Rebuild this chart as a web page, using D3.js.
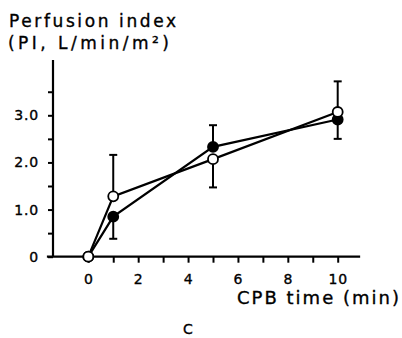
<!DOCTYPE html>
<html>
<head>
<meta charset="utf-8">
<script src="https://cdn.jsdelivr.net/npm/d3@7"></script>
<style>
  body { margin: 0; background: #fff; }
  text { font-family: 'DejaVu Sans', sans-serif; fill: #000; stroke: #000; stroke-width: 0.35; }
</style>
</head>
<body>
<div id="chart"></div>
<script>
// data
const times = [0, 1, 5, 10]
const filledPI = [0, 0.85, 2.33, 2.91]
const filledSD = [0, 0.47, 0.46, 0.41]
const filledDir = [0, -1, 1, -1] // which side the error bar is drawn
const openPI = [0, 1.28, 2.07, 3.07]
const openSD = [0, 0.88, 0.6, 0.65]
const openDir = [0, 1, -1, 1]

const yTicks = [0, 0.5, 1, 1.5, 2, 2.5, 3, 3.5]
const yLabels = { 0: '0', 1: '1.0', 2: '2.0', 3: '3.0' }
const xTicks = d3.range(0, 11)
const xLabels = [0, 2, 4, 6, 8, 10]

const width = 402
const height = 338

const svg = d3
  .select('#chart')
  .append('svg')
  .attr('width', width)
  .attr('height', height)

const x = d3.scaleLinear().domain([0, 10]).range([88.3, 337.7])
const y = d3.scaleLinear().domain([0, 3]).range([256.7, 115.3])

// axes
svg.append('line')
  .attr('x1', x(-1.66)).attr('x2', x(10.9))
  .attr('y1', y(0)).attr('y2', y(0))
  .attr('stroke', '#000').attr('stroke-width', 2.2)

svg.append('line')
  .attr('x1', 53).attr('x2', 53)
  .attr('y1', y(0)).attr('y2', 60)
  .attr('stroke', '#000').attr('stroke-width', 2.2)

const yAxis = d3.axisLeft(y)
  .tickValues(yTicks)
  .tickSize(5)
  .tickPadding(9)
  .tickFormat(d => yLabels[d] || '')

svg.append('g')
  .attr('transform', 'translate(53,0)')
  .call(yAxis)
  .call(g => g.select('.domain').remove())
  .call(g => g.selectAll('line').attr('stroke-width', 2))
  .call(g => g.selectAll('text')
    .attr('font-size', 14)
    .attr('letter-spacing', 0.8)
    .style('font-family', "'DejaVu Sans', sans-serif"))

const xAxis = d3.axisBottom(x)
  .tickValues(xTicks)
  .tickSize(6)
  .tickPadding(11)
  .tickFormat(d => xLabels.includes(d) ? d : '')

svg.append('g')
  .attr('transform', `translate(0,${y(0)})`)
  .call(xAxis)
  .call(g => g.select('.domain').remove())
  .call(g => g.selectAll('line').attr('stroke-width', 2))
  .call(g => g.selectAll('text')
    .attr('font-size', 14)
    .attr('letter-spacing', 0.8)
    .style('font-family', "'DejaVu Sans', sans-serif"))

// titles
svg.append('text')
  .attr('x', 9).attr('y', 27)
  .attr('font-size', 17)
  .attr('textLength', 167)
  .attr('lengthAdjust', 'spacing')
  .text('Perfusion index')

svg.append('text')
  .attr('x', 8).attr('y', 49)
  .attr('font-size', 17)
  .attr('textLength', 161)
  .attr('lengthAdjust', 'spacing')
  .text('(PI, L/min/m²)')

svg.append('text')
  .attr('x', 237).attr('y', 304)
  .attr('font-size', 18)
  .attr('textLength', 162)
  .attr('lengthAdjust', 'spacing')
  .text('CPB time (min)')

svg.append('text')
  .attr('x', 188).attr('y', 334)
  .attr('text-anchor', 'middle')
  .attr('font-size', 14)
  .text('C')

const line = d3.line()
  .x((d, i) => x(times[i]))
  .y(d => y(d))

const series = [
  { vals: filledPI, sd: filledSD, dir: filledDir, fill: '#000' },
  { vals: openPI, sd: openSD, dir: openDir, fill: '#fff' }
]

series.forEach(s => {
  svg.append('path')
    .datum(s.vals)
    .attr('d', line)
    .attr('fill', 'none')
    .attr('stroke', '#000')
    .attr('stroke-width', 2.2)
})

// error bars
series.forEach(s => {
  const bars = times.map((t, i) => ({ t: t, v: s.vals[i], e: s.vals[i] + s.dir[i] * s.sd[i] }))
    .filter(d => d.e !== d.v)
  svg.selectAll(null)
    .data(bars)
    .enter()
    .append('line')
    .attr('x1', d => x(d.t)).attr('x2', d => x(d.t))
    .attr('y1', d => y(d.v)).attr('y2', d => y(d.e))
    .attr('stroke', '#000').attr('stroke-width', 2)
  svg.selectAll(null)
    .data(bars)
    .enter()
    .append('line')
    .attr('x1', d => x(d.t) - 4).attr('x2', d => x(d.t) + 4)
    .attr('y1', d => y(d.e)).attr('y2', d => y(d.e))
    .attr('stroke', '#000').attr('stroke-width', 2)
})

// markers
series.forEach(s => {
  svg.selectAll(null)
    .data(s.vals)
    .enter()
    .append('circle')
    .attr('cx', (d, i) => x(times[i]))
    .attr('cy', d => y(d))
    .attr('r', 5)
    .attr('fill', s.fill)
    .attr('stroke', '#000')
    .attr('stroke-width', 1.8)
})
</script>
</body>
</html>
